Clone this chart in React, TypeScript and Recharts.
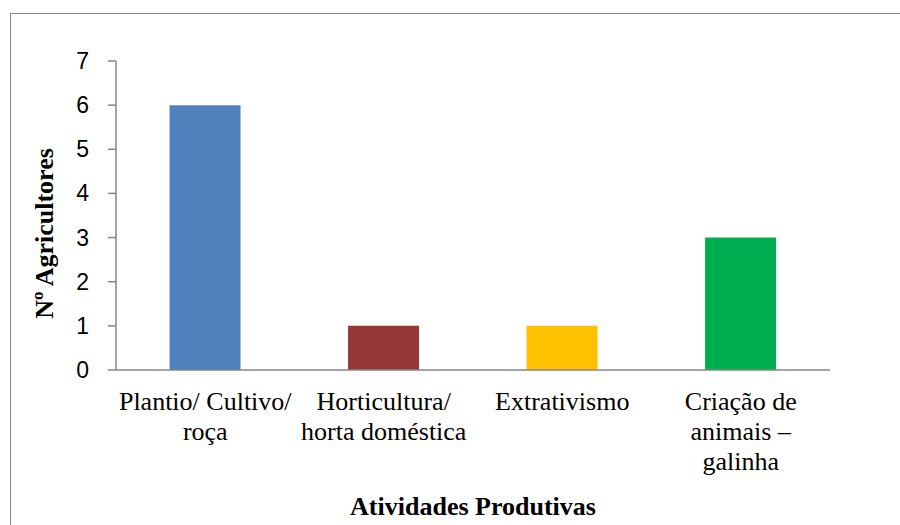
import React from 'react';
import { Bar, BarChart, Cell, XAxis, YAxis, Label } from 'recharts';

const categories = [
  'Plantio/ Cultivo/ roça',
  'Horticultura/ horta doméstica',
  'Extrativismo',
  'Criação de animais – galinha',
];
const tickLines = [
  ['Plantio/ Cultivo/', 'roça'],
  ['Horticultura/', 'horta doméstica'],
  ['Extrativismo'],
  ['Criação de', 'animais –', 'galinha'],
];
const agricultores = [6, 1, 1, 3];
const barColors = ['#4F81BD', '#953735', '#FFC000', '#00B050'];
const yTicks = [0, 1, 2, 3, 4, 5, 6, 7];

const data = categories.map((name, i) => ({
  name,
  value: agricultores[i],
}));

const serif = '"Liberation Serif", "Times New Roman", serif';
const sans = '"Liberation Sans", Arial, sans-serif';
const axisColor = '#868686';

const CategoryTick = (props: any) => {
  const { x, y, index } = props;
  const lines = tickLines[index] ?? [];
  return (
    <text
      x={x}
      y={y}
      textAnchor="middle"
      fill="#000"
      style={{ fontFamily: serif, fontSize: 26 }}>
      {lines.map((line, i) => (
        <tspan key={i} x={x} dy={i === 0 ? 40 : 30}>
          {line}
        </tspan>
      ))}
    </text>
  );
};

const ValueTick = (props: any) => {
  const { x, y, payload } = props;
  return (
    <text
      x={x - 17}
      y={y + 8}
      textAnchor="end"
      fill="#000"
      style={{ fontFamily: sans, fontSize: 23 }}>
      {payload.value}
    </text>
  );
};

const App = () => {
  return (
    <div style={{ position: 'absolute', left: 0, top: 0, width: 900, height: 525, overflow: 'hidden', background: '#fff' }}>
      <div
        style={{
          position: 'absolute',
          left: 10,
          top: 13,
          width: 920,
          height: 540,
          border: `1.5px solid ${axisColor}`,
          boxSizing: 'border-box',
        }}
      />
      <div style={{ position: 'absolute', left: 0, top: 0 }}>
        <BarChart
          width={900}
          height={525}
          data={data}
          margin={{ top: 61, right: 70, left: 0, bottom: 0 }}
          barCategoryGap="30%">
          <XAxis
            dataKey="name"
            height={155}
            tick={(p: any) => <CategoryTick {...p} />}
            tickLine={false}
            tickSize={0}
            tickMargin={0}
            interval={0}
            stroke={axisColor}
            strokeWidth={1.5}>
            <Label
              value="Atividades Produtivas"
              position="insideBottom"
              offset={10}
              fill="#000"
              fontFamily={serif}
              fontSize={26}
              fontWeight="bold"
            />
          </XAxis>
          <YAxis
            width={116}
            domain={[0, 7]}
            ticks={yTicks}
            interval={0}
            tick={(p: any) => <ValueTick {...p} />}
            tickSize={8}
            stroke={axisColor}
            strokeWidth={1.5}>
            <Label
              value="Nº Agricultores"
              angle={-90}
              position="insideLeft"
              offset={44}
              dy={18}
              fill="#000"
              fontFamily={serif}
              fontSize={26}
              fontWeight="bold"
              style={{ textAnchor: 'middle' }}
            />
          </YAxis>
          <Bar dataKey="value" isAnimationActive={false}>
            {data.map((d, i) => (
              <Cell key={d.name} fill={barColors[i]} />
            ))}
          </Bar>
        </BarChart>
      </div>
    </div>
  );
};

export default App;
